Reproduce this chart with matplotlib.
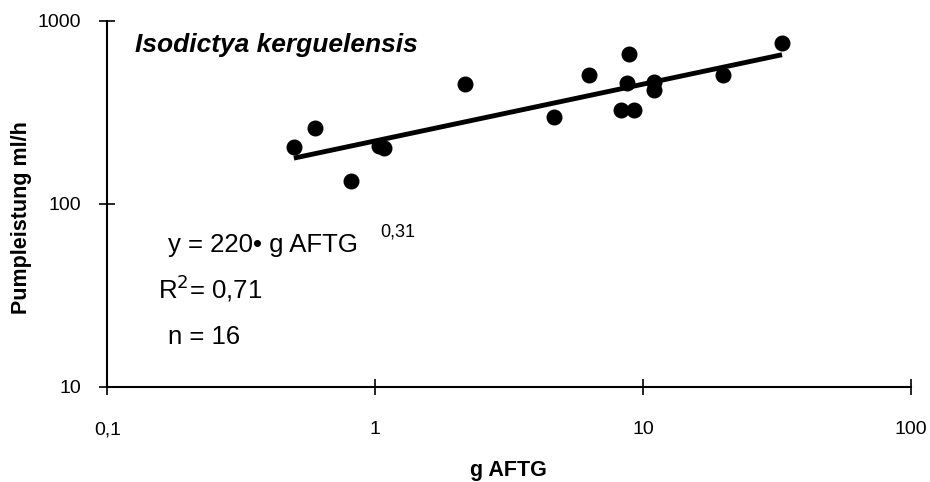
import matplotlib
matplotlib.use("Agg")
import matplotlib.pyplot as plt
import numpy as np

# data
mass = [0.497, 0.594, 0.813, 1.03, 1.08, 2.16, 4.66, 6.29, 8.84, 8.73, 8.24, 9.25, 11.0, 11.0, 19.9, 33.0]
pump = [203, 258, 133, 206, 202, 451, 299, 506, 656, 454, 325, 325, 464, 418, 504, 751]
fit_a = 220
fit_b = 0.31
xticks = [0.1, 1, 10, 100]
xticklabels = ["0,1", "1", "10", "100"]
yticks = [10, 100, 1000]
yticklabels = ["10", "100", "1000"]

plt.rcParams['font.family'] = ['Liberation Sans', 'DejaVu Sans']

W, H = 930, 482
fig = plt.figure(figsize=(W / 100, H / 100), dpi=100)
x0, x1, ytop, ybot = 107.3, 911, 20.5, 386.7
ax = fig.add_axes([x0 / W, 1 - ybot / H, (x1 - x0) / W, (ybot - ytop) / H])

ax.set_xscale('log')
ax.set_yscale('log')
ax.set_xlim(0.1, 100)
ax.set_ylim(10, 1000)

xf = np.array([min(mass), max(mass)])
ax.plot(xf, fit_a * xf ** fit_b, color='black', lw=3.5, solid_capstyle='butt', zorder=2)
ax.plot(mass, pump, 'o', color='black', ms=10.5, zorder=3)

for s in ['top', 'right']:
    ax.spines[s].set_visible(False)
for s in ['left', 'bottom']:
    ax.spines[s].set_linewidth(1.5)

ax.minorticks_off()
ax.set_xticks(xticks)
ax.set_xticklabels(xticklabels)
ax.set_yticks(yticks)
ax.set_yticklabels(yticklabels)
ax.tick_params(axis='both', which='major', direction='inout', length=11.5, width=1.2, labelsize=14)
ax.tick_params(axis='x', pad=19)
ax.tick_params(axis='y', pad=13)
ax.tick_params(which='minor', length=0)


def fx(px):
    return px / W


def fy(py):
    return 1 - py / H


fig.text(fx(508), fy(476), "g AFTG", fontsize=15.5, fontweight='bold', ha='center', va='baseline')
fig.text(fx(22), fy(218), "Pumpleistung ml/h", fontsize=15.5, fontweight='bold',
         rotation=90, ha='center', va='center')

fig.text(fx(135), fy(51.7), "Isodictya kerguelensis", fontsize=19, fontweight='bold',
         fontstyle='italic', ha='left', va='baseline')

fig.text(fx(168), fy(252), "y = 220• g AFTG", fontsize=18.5, ha='left', va='baseline')
fig.text(fx(380), fy(236), "0,31", fontsize=13, ha='left', va='baseline')
fig.text(fx(158), fy(298), "R$^{2}$= 0,71", fontsize=18.5, ha='left', va='baseline')
fig.text(fx(168), fy(344), "n = 16", fontsize=18.5, ha='left', va='baseline')

fig.savefig("out.png", dpi=100)
